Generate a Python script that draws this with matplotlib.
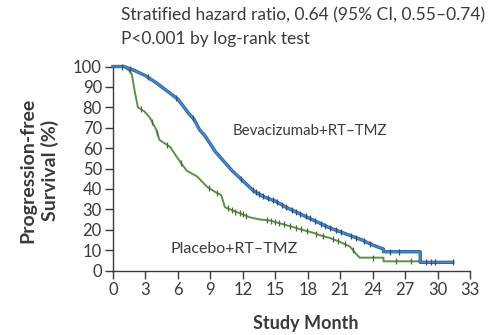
import numpy as np
import matplotlib
matplotlib.use("Agg")
import matplotlib.pyplot as plt

# Kaplan-Meier curves (month, % progression-free)
bev_t = [0, 1.0, 2.0, 3.0, 4.0, 5.0, 6.0, 7.0, 7.5, 8.0, 8.5, 9.0, 9.5, 10.0, 11.0,
         12.0, 12.5, 13.0, 14.0, 15.0, 16.0, 17.0, 18.0, 19.0, 20.0, 21.0, 22.0,
         23.0, 24.0, 25.0, 25.0, 28.4, 28.4, 31.4]
bev_s = [100, 100, 98, 95.5, 92, 88, 84, 77, 74, 69, 66, 62, 58, 55, 49,
         44, 41.5, 39, 36, 34, 31, 28.5, 26, 23.5, 21, 19, 17,
         15, 12.5, 10.5, 9.2, 9.2, 4.0, 4.0]

pla_t = [0, 1.0, 1.5, 1.75, 2.0, 2.3, 2.9, 3.4, 4.0, 4.3, 5.3, 5.9, 6.8, 7.8, 8.7, 9.6,
         10.0, 10.35, 11.4, 12.7, 13.6, 14.5, 15.5, 16.5, 17.6, 18.5, 19.3, 20.0,
         21.0, 21.9, 22.5, 22.8, 25.0, 25.0, 28.4]
pla_s = [100, 100, 98, 96, 88, 80, 78, 75, 69, 64, 60.5, 55.6, 49, 46, 41, 38,
         37, 31, 28.7, 26, 25, 24.5, 23, 21.5, 19.8, 18.5, 17, 16,
         14, 11.7, 8, 6.3, 6.3, 4.5, 4.5]

# censoring marks (months)
bev_cens = [0.8, 1.6, 3.2, 5.8, 7.4, 11.8, 12.9, 13.2, 13.5, 13.9, 14.3, 14.8, 15.2,
            15.6, 16.0, 16.5, 16.9, 17.3, 17.8, 18.2, 18.7, 19.2, 19.6, 20.1,
            20.6, 21.1, 22.0, 22.5, 23.2, 23.8, 25.6, 26.4, 28.9, 29.4, 29.8, 31.4]
pla_cens = [2.6, 3.6, 4.1, 5.0, 6.3, 8.9, 9.6, 10.6, 11.0, 11.3, 11.7, 12.0, 12.3,
            14.2, 14.6, 15.0, 15.3, 15.8, 16.4, 16.9, 17.4, 17.9, 18.8, 19.4,
            20.3, 20.8, 21.4, 22.2, 24.0, 26.2, 27.5]

x_ticks = list(range(0, 34, 3))
y_ticks = list(range(0, 101, 10))

blue = "#4488cc"
green = "#5a9343"
ink = "#3a3a3a"
font = "Lato"

fig = plt.figure(figsize=(4.94, 3.35), dpi=100)
ax = fig.add_axes([113 / 494, 1 - 270.5 / 335, 357 / 494, 204 / 335])

ax.plot(pla_t, pla_s, color=green, lw=1.4, clip_on=False, zorder=3)
ax.plot(pla_cens, np.interp(pla_cens, pla_t, pla_s), ls="none", marker="|",
        ms=5, mew=0.9, color="#4a6a3a", clip_on=False, zorder=4)

ax.plot(bev_t, bev_s, color="#2a5a90", lw=2.4, clip_on=False, zorder=5)
ax.plot(bev_t, bev_s, color=blue, lw=1.4, clip_on=False, zorder=6)
ax.plot(bev_cens, np.interp(bev_cens, bev_t, bev_s), ls="none", marker="|",
        ms=5, mew=0.9, color="#2e4f78", clip_on=False, zorder=7)

ax.set_xlim(0, 33)
ax.set_ylim(0, 100)
ax.set_xticks(x_ticks)
ax.set_yticks(y_ticks)
ax.set_xticklabels([str(v) for v in x_ticks], fontfamily=font, fontsize=12, color=ink)
ax.set_yticklabels([str(v) for v in y_ticks], fontfamily=font, fontsize=12, color=ink)
ax.tick_params(direction="out", length=5.5, width=1, color=ink, pad=2.5)

for side in ["top", "right"]:
    ax.spines[side].set_visible(False)
for side in ["left", "bottom"]:
    ax.spines[side].set_color(ink)
    ax.spines[side].set_linewidth(1)

ax.text(11.1, 68.4, "Bevacizumab+RT\u2013TMZ", fontfamily=font, fontsize=10.8,
        color=ink, ha="left", va="center")
ax.text(5.3, 10.5, "Placebo+RT\u2013TMZ", fontfamily=font, fontsize=11.5,
        color=ink, ha="left", va="center")

fig.text(121 / 494, 1 - 15 / 335, "Stratified hazard ratio, 0.64 (95% CI, 0.55\u20130.74)",
         fontfamily=font, fontsize=12.5, color=ink, ha="left", va="center")
fig.text(121 / 494, 1 - 39 / 335, "P<0.001 by log-rank test",
         fontfamily=font, fontsize=12.5, color=ink, ha="left", va="center")

fig.text(39 / 494, 1 - 170 / 335, "Progression-free\nSurvival (%)", rotation=90,
         fontfamily=font, fontsize=14, fontweight="bold", color=ink,
         ha="center", va="center", multialignment="center", linespacing=1.3)
fig.text(306 / 494, 1 - 323 / 335, "Study Month", fontfamily=font, fontsize=13,
         fontweight="bold", color=ink, ha="center", va="center")

fig.savefig("out.png", dpi=100)
